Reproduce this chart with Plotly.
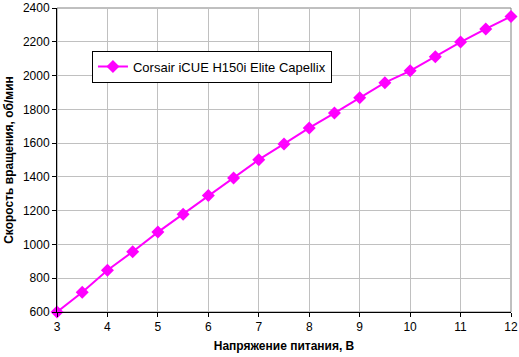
import plotly.graph_objects as go

voltage = [3, 3.5, 4, 4.5, 5, 5.5, 6, 6.5, 7, 7.5, 8, 8.5, 9, 9.5, 10, 10.5, 11, 11.5, 12]
rpm = [600, 717, 847, 957, 1073, 1179, 1290, 1393, 1502, 1595, 1690, 1778, 1869, 1958, 2028, 2112, 2198, 2276, 2350]
series_name = "Corsair iCUE H150i Elite Capellix"
x_title = "Напряжение питания, В"
y_title = "Скорость вращения, об/мин"

fig = go.Figure()
fig.add_trace(go.Scatter(
    x=voltage, y=rpm, mode="lines+markers", name=series_name,
    line=dict(color="#ff00ff", width=2),
    marker=dict(symbol="diamond", size=10, color="#ff00ff"),
    cliponaxis=False,
))

axis_font = dict(family="Liberation Sans, Arial, sans-serif", size=12, color="black")
fig.update_layout(
    width=519, height=357,
    margin=dict(l=57, r=8, t=8, b=45),
    paper_bgcolor="white", plot_bgcolor="white",
    font=axis_font,
    showlegend=True,
    legend=dict(
        x=0.077, y=0.86, xanchor="left", yanchor="top",
        bordercolor="black", borderwidth=1, bgcolor="white", itemwidth=30,
        font=dict(family="Liberation Sans, Arial, sans-serif", size=13, color="black"),
    ),
    xaxis=dict(
        range=[3, 12], tickvals=list(range(3, 13)), showgrid=True, gridcolor="#c0c0c0",
        gridwidth=1, showline=True, linecolor="black", linewidth=1, mirror=False,
        ticks="outside", ticklen=4, tickcolor="black", zeroline=False, automargin=False,
        title=dict(text="<b>" + x_title + "</b>", font=dict(size=12), standoff=8),
    ),
    yaxis=dict(
        range=[600, 2400], tickvals=list(range(600, 2401, 200)), showgrid=True, gridcolor="#c0c0c0",
        gridwidth=1, showline=True, linecolor="black", linewidth=1, automargin=False,
        ticks="outside", ticklen=4, tickcolor="black", zeroline=False,
        title=dict(text="<b>" + y_title + "</b>", font=dict(size=12), standoff=6),
    ),
)
fig.add_shape(type="rect", xref="paper", yref="paper", x0=0, y0=0, x1=1, y1=1,
              line=dict(color="#808080", width=1), layer="below")
fig.write_html("out.html", config={"displayModeBar": False},
               post_script="document.body.style.margin='0';document.body.style.overflow='hidden';")
